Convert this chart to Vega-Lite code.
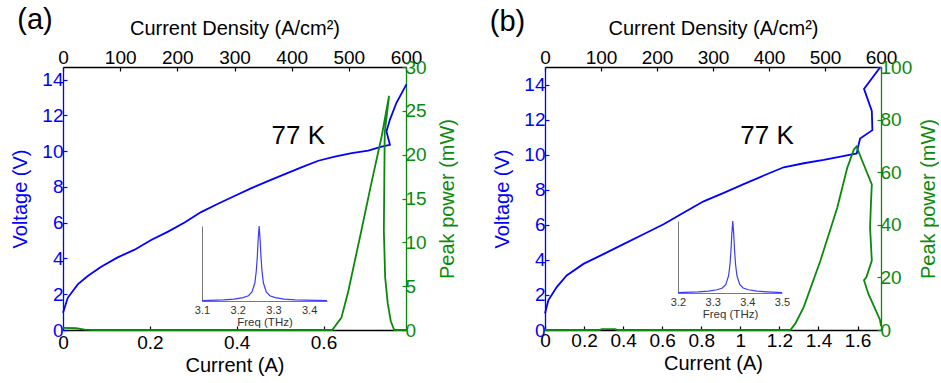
{
"$schema": "https://vega.github.io/schema/vega-lite/v6.json",
"background": "white",
"padding": {"left": 10, "top": 5, "right": 0, "bottom": 5},
"spacing": 31,
"config": {
  "view": {"stroke": null},
  "axis": {"grid": false, "labelFont": "Liberation Sans", "titleFont": "Liberation Sans", "titleFontWeight": "normal", "labelOverlap": false, "labelFlush": false, "labelBound": false, "labelFontSize": 19, "titleFontSize": 20, "domainWidth": 1.3, "tickWidth": 1.2, "tickSize": -4, "labelPadding": 5},
  "text": {"font": "Liberation Sans"}
},
"datasets": {
  "ivA": [
    {"I":0,"V":0.96,"o":1},{"I":0.011,"V":1.8,"o":2},{"I":0.034,"V":2.55,"o":3},{"I":0.057,"V":3.02,"o":4},{"I":0.088,"V":3.53,"o":5},{"I":0.126,"V":4.06,"o":6},{"I":0.165,"V":4.49,"o":7},{"I":0.203,"V":5.03,"o":8},{"I":0.242,"V":5.5,"o":9},{"I":0.28,"V":6.01,"o":10},{"I":0.318,"V":6.59,"o":11},{"I":0.357,"V":7.06,"o":12},{"I":0.395,"V":7.49,"o":13},{"I":0.434,"V":7.93,"o":14},{"I":0.472,"V":8.32,"o":15},{"I":0.511,"V":8.71,"o":16},{"I":0.549,"V":9.09,"o":17},{"I":0.588,"V":9.46,"o":18},{"I":0.626,"V":9.69,"o":19},{"I":0.665,"V":9.88,"o":20},{"I":0.703,"V":10.03,"o":21},{"I":0.734,"V":10.25,"o":22},{"I":0.753,"V":10.35,"o":23},{"I":0.745,"V":11.1,"o":24},{"I":0.753,"V":11.76,"o":25},{"I":0.768,"V":12.7,"o":26},{"I":0.791,"V":13.73,"o":27}
  ],
  "ipA": [
    {"I":0,"P":0.25,"o":1},{"I":0.03,"P":0.2,"o":2},{"I":0.05,"P":0.05,"o":3},{"I":0.07,"P":0,"o":4},{"I":0.62,"P":0,"o":5},{"I":0.641,"P":1.38,"o":6},{"I":0.657,"P":4.4,"o":7},{"I":0.687,"P":11.3,"o":8},{"I":0.71,"P":16.7,"o":9},{"I":0.734,"P":22.1,"o":10},{"I":0.751,"P":26.7,"o":11},{"I":0.741,"P":22.5,"o":12},{"I":0.74,"P":17,"o":13},{"I":0.739,"P":11.3,"o":14},{"I":0.742,"P":6,"o":15},{"I":0.748,"P":3,"o":16},{"I":0.755,"P":1,"o":17},{"I":0.763,"P":0,"o":18},{"I":0.79,"P":0,"o":19}
  ],
  "specA": [
    {"f":3.1,"a":0.005},{"f":3.16,"a":0.015},{"f":3.19,"a":0.025},{"f":3.215,"a":0.045},{"f":3.23,"a":0.07},{"f":3.24,"a":0.12},{"f":3.248,"a":0.24},{"f":3.252,"a":0.4},{"f":3.255,"a":0.6},{"f":3.257,"a":0.8},{"f":3.26,"a":1.0},{"f":3.263,"a":0.8},{"f":3.265,"a":0.6},{"f":3.268,"a":0.4},{"f":3.272,"a":0.24},{"f":3.28,"a":0.12},{"f":3.29,"a":0.07},{"f":3.305,"a":0.045},{"f":3.33,"a":0.025},{"f":3.36,"a":0.015},{"f":3.45,"a":0.005}
  ],
  "ivB": [
    {"I":0,"V":0.94,"o":1},{"I":0.017,"V":1.69,"o":2},{"I":0.06,"V":2.45,"o":3},{"I":0.111,"V":3.11,"o":4},{"I":0.197,"V":3.77,"o":5},{"I":0.299,"V":4.33,"o":6},{"I":0.402,"V":4.9,"o":7},{"I":0.504,"V":5.46,"o":8},{"I":0.607,"V":6.03,"o":9},{"I":0.709,"V":6.69,"o":10},{"I":0.812,"V":7.34,"o":11},{"I":0.915,"V":7.82,"o":12},{"I":1.017,"V":8.32,"o":13},{"I":1.12,"V":8.81,"o":14},{"I":1.222,"V":9.28,"o":15},{"I":1.325,"V":9.51,"o":16},{"I":1.427,"V":9.7,"o":17},{"I":1.513,"V":9.89,"o":18},{"I":1.596,"V":10.07,"o":19},{"I":1.601,"V":10.36,"o":20},{"I":1.613,"V":10.92,"o":21},{"I":1.676,"V":11.4,"o":22},{"I":1.673,"V":12.5,"o":23},{"I":1.633,"V":13.75,"o":24},{"I":1.715,"V":14.97,"o":25}
  ],
  "ipB": [
    {"I":0,"P":0,"o":1},{"I":0.28,"P":0,"o":2},{"I":0.29,"P":0.3,"o":3},{"I":0.36,"P":0.3,"o":4},{"I":0.37,"P":0,"o":5},{"I":1.256,"P":0,"o":6},{"I":1.282,"P":2.5,"o":7},{"I":1.325,"P":8.8,"o":8},{"I":1.41,"P":26.4,"o":9},{"I":1.496,"P":46.5,"o":10},{"I":1.547,"P":61.6,"o":11},{"I":1.581,"P":68.6,"o":12},{"I":1.595,"P":69.8,"o":13},{"I":1.62,"P":65,"o":14},{"I":1.673,"P":55.4,"o":15},{"I":1.668,"P":47,"o":16},{"I":1.664,"P":39,"o":17},{"I":1.673,"P":26.4,"o":18},{"I":1.645,"P":20,"o":19},{"I":1.633,"P":18.9,"o":20},{"I":1.655,"P":13.8,"o":21},{"I":1.69,"P":8,"o":22},{"I":1.715,"P":3.8,"o":23},{"I":1.72,"P":1.5,"o":24}
  ],
  "specB": [
    {"f":3.2,"a":0.005},{"f":3.258,"a":0.015},{"f":3.288,"a":0.025},{"f":3.313,"a":0.045},{"f":3.328,"a":0.07},{"f":3.338,"a":0.12},{"f":3.346,"a":0.24},{"f":3.35,"a":0.4},{"f":3.353,"a":0.6},{"f":3.355,"a":0.8},{"f":3.358,"a":1.0},{"f":3.361,"a":0.8},{"f":3.363,"a":0.6},{"f":3.366,"a":0.4},{"f":3.37,"a":0.24},{"f":3.378,"a":0.12},{"f":3.388,"a":0.07},{"f":3.403,"a":0.045},{"f":3.428,"a":0.025},{"f":3.458,"a":0.015},{"f":3.5,"a":0.005}
  ],
  "jd": [{"J":0},{"J":600}],
  "labA": [{"I":0.542,"V":10.84,"t":"77 K"}],
  "tagA": [{"I":-0.0645,"V":16.85,"t":"(a)"}],
  "labB": [{"I":1.137,"V":11.06,"t":"77 K"}],
  "tagB": [{"I":-0.192,"V":17.07,"t":"(b)"}]
},
"hconcat": [
 {
  "width": 343, "height": 263,
  "resolve": {"scale": {"x": "independent", "y": "independent"}},
  "layer": [
   {"data": {"name": "ivA"}, "mark": {"type": "line", "color": "#0000ff", "strokeWidth": 1.8},
    "encoding": {
      "x": {"field": "I", "type": "quantitative", "scale": {"domain": [0, 0.79], "nice": false, "zero": false},
            "axis": {"orient": "bottom", "values": [0, 0.2, 0.4, 0.6], "format": "~g", "title": "Current (A)", "domainColor": "black", "tickColor": "black", "labelColor": "black", "titleColor": "black", "labelPadding": 7, "titlePadding": 3}},
      "y": {"field": "V", "type": "quantitative", "scale": {"domain": [0, 14.7], "nice": false, "zero": false},
            "axis": {"orient": "left", "values": [0, 2, 4, 6, 8, 10, 12, 14], "title": "Voltage (V)", "domainColor": "#0000ff", "tickColor": "#0000ff", "labelColor": "#0000ff", "titleColor": "#0000ff", "labelPadding": 4, "titlePadding": 11}},
      "order": {"field": "o", "type": "quantitative"}
    }},
   {"data": {"name": "ipA"}, "mark": {"type": "line", "color": "#0a8a0a", "strokeWidth": 1.8},
    "encoding": {
      "x": {"field": "I", "type": "quantitative", "scale": {"domain": [0, 0.79], "nice": false, "zero": false}, "axis": null},
      "y": {"field": "P", "type": "quantitative", "scale": {"domain": [0, 30], "nice": false},
            "axis": {"orient": "right", "values": [0, 5, 10, 15, 20, 25, 30], "title": "Peak power (mW)", "titleAngle": 270, "titleBaseline": "top", "domainColor": "#0a8a0a", "tickColor": "#0a8a0a", "labelColor": "#0a8a0a", "titleColor": "#0a8a0a", "labelPadding": 3, "titlePadding": 11}},
      "order": {"field": "o", "type": "quantitative"}
    }},
   {"data": {"name": "jd"}, "mark": {"type": "point", "opacity": 0},
    "encoding": {
      "x": {"field": "J", "type": "quantitative", "scale": {"domain": [0, 600], "nice": false},
            "axis": {"orient": "top", "values": [0, 100, 200, 300, 400, 500, 600], "title": "Current Density (A/cm²)", "domainColor": "black", "tickColor": "black", "labelColor": "black", "titleColor": "black", "labelPadding": 4, "titlePadding": 10}}
    }},
   {"data": {"name": "specA"}, "mark": {"type": "line", "color": "#3a3aff", "strokeWidth": 1.2},
    "encoding": {
      "x": {"field": "f", "type": "quantitative", "scale": {"domain": [3.1, 3.45], "range": [139, 264], "nice": false, "zero": false},
            "axis": {"orient": "bottom", "offset": -29, "values": [3.1, 3.2, 3.3, 3.4], "format": ".1f", "ticks": false, "labelFontSize": 11, "labelPadding": 3, "labelColor": "#333", "title": "Freq (THz)", "titleFontSize": 11.5, "titleColor": "#333", "titlePadding": 1, "domainColor": "#777", "domainWidth": 1}},
      "y": {"field": "a", "type": "quantitative", "scale": {"domain": [0, 1], "range": [234, 159], "nice": false},
            "axis": {"orient": "left", "offset": -139, "labels": false, "ticks": false, "title": null, "domainColor": "#777", "domainWidth": 1}}
    }},
   {"data": {"name": "labA"}, "mark": {"type": "text", "fontSize": 26, "align": "center", "baseline": "middle", "color": "black"},
    "encoding": {
      "x": {"field": "I", "type": "quantitative", "scale": {"domain": [0, 0.79], "nice": false, "zero": false}, "axis": null},
      "y": {"field": "V", "type": "quantitative", "scale": {"domain": [0, 14.7], "nice": false, "zero": false}, "axis": null},
      "text": {"field": "t"}
    }},
   {"data": {"name": "tagA"}, "mark": {"type": "text", "fontSize": 29, "align": "center", "baseline": "alphabetic", "color": "black"},
    "encoding": {
      "x": {"field": "I", "type": "quantitative", "scale": {"domain": [0, 0.79], "nice": false, "zero": false}, "axis": null},
      "y": {"field": "V", "type": "quantitative", "scale": {"domain": [0, 14.7], "nice": false, "zero": false}, "axis": null},
      "text": {"field": "t"}
    }}
  ]
 },
 {
  "width": 336, "height": 263,
  "resolve": {"scale": {"x": "independent", "y": "independent"}},
  "layer": [
   {"data": {"name": "ivB"}, "mark": {"type": "line", "color": "#0000ff", "strokeWidth": 1.8},
    "encoding": {
      "x": {"field": "I", "type": "quantitative", "scale": {"domain": [0, 1.72], "nice": false, "zero": false},
            "axis": {"orient": "bottom", "values": [0, 0.2, 0.4, 0.6, 0.8, 1, 1.2, 1.4, 1.6], "format": "~g", "title": "Current (A)", "domainColor": "black", "tickColor": "black", "labelColor": "black", "titleColor": "black", "labelPadding": 5, "titlePadding": 3}},
      "y": {"field": "V", "type": "quantitative", "scale": {"domain": [0, 15], "nice": false, "zero": false},
            "axis": {"orient": "left", "values": [0, 2, 4, 6, 8, 10, 12, 14], "title": "Voltage (V)", "domainColor": "#0000ff", "tickColor": "#0000ff", "labelColor": "#0000ff", "titleColor": "#0000ff", "labelPadding": 4, "titlePadding": 11}},
      "order": {"field": "o", "type": "quantitative"}
    }},
   {"data": {"name": "ipB"}, "mark": {"type": "line", "color": "#0a8a0a", "strokeWidth": 1.8},
    "encoding": {
      "x": {"field": "I", "type": "quantitative", "scale": {"domain": [0, 1.72], "nice": false, "zero": false}, "axis": null},
      "y": {"field": "P", "type": "quantitative", "scale": {"domain": [0, 100], "nice": false},
            "axis": {"orient": "right", "values": [0, 20, 40, 60, 80, 100], "title": "Peak power (mW)", "titleAngle": 270, "titleBaseline": "top", "domainColor": "#0a8a0a", "tickColor": "#0a8a0a", "labelColor": "#0a8a0a", "titleColor": "#0a8a0a", "labelPadding": 3, "titlePadding": 7}},
      "order": {"field": "o", "type": "quantitative"}
    }},
   {"data": {"name": "jd"}, "mark": {"type": "point", "opacity": 0},
    "encoding": {
      "x": {"field": "J", "type": "quantitative", "scale": {"domain": [0, 600], "nice": false},
            "axis": {"orient": "top", "values": [0, 100, 200, 300, 400, 500, 600], "title": "Current Density (A/cm²)", "domainColor": "black", "tickColor": "black", "labelColor": "black", "titleColor": "black", "labelPadding": 4, "titlePadding": 10}}
    }},
   {"data": {"name": "specB"}, "mark": {"type": "line", "color": "#3a3aff", "strokeWidth": 1.2},
    "encoding": {
      "x": {"field": "f", "type": "quantitative", "scale": {"domain": [3.2, 3.5], "range": [133, 237], "nice": false, "zero": false},
            "axis": {"orient": "bottom", "offset": -37, "values": [3.2, 3.3, 3.4, 3.5], "format": ".1f", "ticks": false, "labelFontSize": 11, "labelPadding": 3, "labelColor": "#333", "title": "Freq (THz)", "titleFontSize": 11.5, "titleColor": "#333", "titlePadding": 1, "domainColor": "#777", "domainWidth": 1}},
      "y": {"field": "a", "type": "quantitative", "scale": {"domain": [0, 1], "range": [226, 154], "nice": false},
            "axis": {"orient": "left", "offset": -133, "labels": false, "ticks": false, "title": null, "domainColor": "#777", "domainWidth": 1}}
    }},
   {"data": {"name": "labB"}, "mark": {"type": "text", "fontSize": 26, "align": "center", "baseline": "middle", "color": "black"},
    "encoding": {
      "x": {"field": "I", "type": "quantitative", "scale": {"domain": [0, 1.72], "nice": false, "zero": false}, "axis": null},
      "y": {"field": "V", "type": "quantitative", "scale": {"domain": [0, 15], "nice": false, "zero": false}, "axis": null},
      "text": {"field": "t"}
    }},
   {"data": {"name": "tagB"}, "mark": {"type": "text", "fontSize": 29, "align": "center", "baseline": "alphabetic", "color": "black"},
    "encoding": {
      "x": {"field": "I", "type": "quantitative", "scale": {"domain": [0, 1.72], "nice": false, "zero": false}, "axis": null},
      "y": {"field": "V", "type": "quantitative", "scale": {"domain": [0, 15], "nice": false, "zero": false}, "axis": null},
      "text": {"field": "t"}
    }}
  ]
 }
]
}
